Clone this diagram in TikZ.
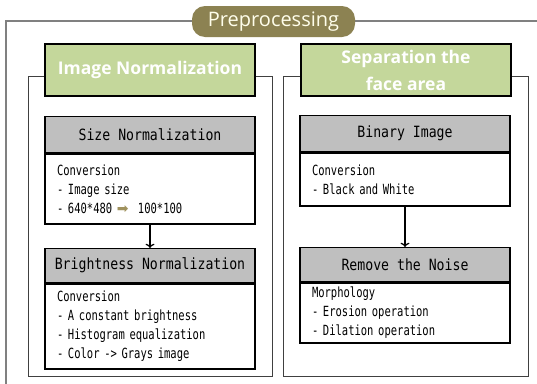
\documentclass[tikz,border=0pt]{standalone}
\usepackage{fontspec}
\usepackage{tikz}
\usetikzlibrary{arrows.meta, positioning}

\newfontfamily\boxfont[FakeStretch=0.75]{DejaVu Sans Mono}
\newfontfamily\kopffont[FakeStretch=0.85]{DejaVu Sans Mono}
\newfontfamily\tagfont{Open Sans}
\newfontfamily\symfont{DejaVu Sans}

\definecolor{olivpill}{RGB}{140,130,82}
\definecolor{tabgruen}{RGB}{196,215,155}
\definecolor{kopfgrau}{RGB}{191,191,191}
\definecolor{pfeiloliv}{RGB}{160,146,94}
\definecolor{rahmengrau}{RGB}{128,128,128}

\tikzset{
	kopf/.style={draw=black, line width=1.3pt, fill=kopfgrau, minimum width=210, anchor=north, font=\kopffont\fontsize{15.5}{18}\selectfont},
	inhalt/.style={draw=black, line width=1.3pt, fill=white, text width=186, inner xsep=12, align=left, font=\boxfont\fontsize{14}{19}\selectfont},
	reiter/.style={draw=black, line width=1.6pt, fill=tabgruen, minimum width=210, minimum height=52, text=white, align=center, font=\tagfont\bfseries\fontsize{17.5}{27}\selectfont},
	pille/.style={fill=olivpill, rounded corners=13, minimum width=163, minimum height=31, text=white!92!yellow, font=\tagfont\fontsize{20}{22}\selectfont},
	feld/.style={draw=black!75, line width=0.8pt},
}

\begin{document}
\begin{tikzpicture}[x=1pt, y=-1pt]
			\useasboundingbox (0,0) rectangle (537,383);
			
			% Rahmen
			\draw[rahmengrau, line width=2pt] (6,395) -- (6,21) -- (545,21);
			\node[pille] (prepro) at (273.5,21.5) {Preprocessing};
			
			% Felder
			\draw[feld] (28,76) rectangle (272,376);
			\draw[feld] (283,76) rectangle (528,376);
			\node[reiter] (imgnorm) at (150,70) {Image Normalization};
			\node[reiter] (separation) at (406,70) {Separation the\\face area};
			
			% Linke Spalte
			\node[kopf, minimum height=36] (sizekopf) at (150,116) {Size Normalization};
			\node[inhalt, minimum height=70, below=0pt of sizekopf] (sizetext) {Conversion\\- Image size\\- 640*480 {\color{pfeiloliv}\symfont\fontsize{14}{19}\selectfont ➡}\ \ 100*100};
			\node[kopf, minimum height=34] (brightkopf) at (150,248) {Brightness Normalization};
			\node[inhalt, minimum height=85, below=0pt of brightkopf] (brighttext) {Conversion\\- A constant brightness\\- Histogram equalization\\- Color -> Grays image};
			\draw[->, line width=1.2pt] (sizetext) -- (brightkopf);
			
			% Rechte Spalte
			\node[kopf, minimum height=36] (binkopf) at (405,115) {Binary Image};
			\node[inhalt, minimum height=53, below=0pt of binkopf] (bintext) {Conversion\\- Black and White};
			\node[kopf, minimum height=34] (noisekopf) at (405,247) {Remove the Noise};
			\node[inhalt, minimum height=60, below=0pt of noisekopf] (noisetext) {Morphology\\- Erosion operation\\- Dilation operation};
			\draw[->, line width=1.2pt] (bintext) -- (noisekopf);
		\end{tikzpicture}
\end{document}
